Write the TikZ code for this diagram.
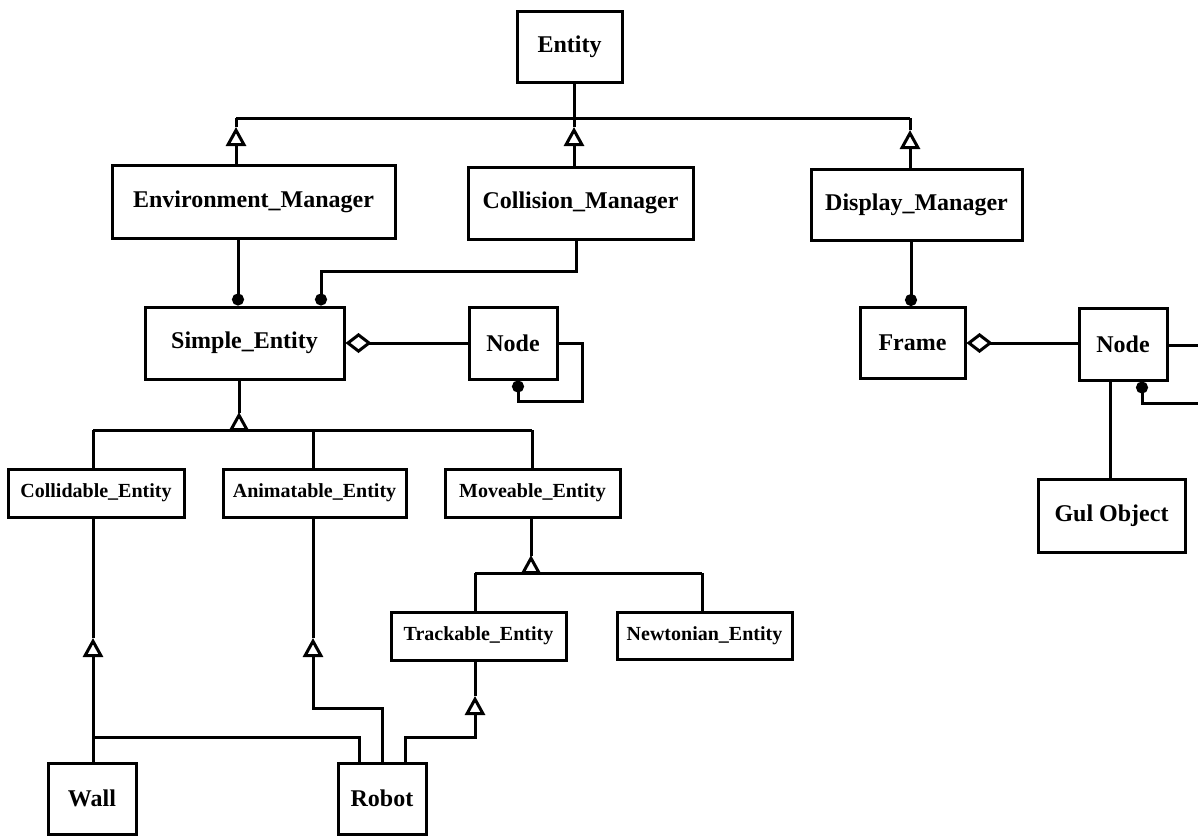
\documentclass[tikz,border=0pt]{standalone}
\usepackage{fontspec}
\setmainfont{Liberation Serif}
\usetikzlibrary{arrows.meta}
\begin{document}
\begin{tikzpicture}[x=1pt,y=-1pt,
  line width=3pt,
  bigbox/.style={draw, line width=3pt, inner sep=0pt, font=\fontsize{24}{28}\selectfont\bfseries},
  smallbox/.style={draw, line width=3pt, inner sep=0pt, font=\fontsize{20}{24}\selectfont\bfseries},
  genarrow/.style={-{Triangle[open,length=19pt,width=20pt]}},
  comparrow/.style={-{Circle[length=12pt]}},
  aggarrow/.style={-{Diamond[open,length=26pt,width=20pt]}}]
\useasboundingbox (0,0) rectangle (1198,835);

% nodes
\node[bigbox, minimum width=105pt, minimum height=71pt] (Entity) at (569.5,46.5) {Entity};
\node[bigbox, minimum width=283pt, minimum height=73pt] (EnvM) at (253.5,201.5) {Environment\_Manager};
\node[bigbox, minimum width=225pt, minimum height=72pt] (ColM) at (580.5,203) {Collision\_Manager};
\node[bigbox, minimum width=211pt, minimum height=71pt] (DispM) at (916.5,204.5) {Display\_Manager};
\node[bigbox, minimum width=199pt, minimum height=72pt] (Simple) at (244.5,343) {Simple\_Entity};
\node[bigbox, minimum width=88pt, minimum height=72pt] (NodeA) at (513,343) {Node};
\node[bigbox, minimum width=105pt, minimum height=71pt] (Frame) at (912.5,343) {Frame};
\node[bigbox, minimum width=88pt, minimum height=72pt] (NodeB) at (1123,344) {Node};
\node[bigbox, minimum width=147pt, minimum height=73pt] (Gul) at (1111.5,515.5) {Gul Object};
\node[smallbox, minimum width=176pt, minimum height=48pt] (Coll) at (96,493) {Collidable\_Entity};
\node[smallbox, minimum width=183pt, minimum height=48pt] (Anim) at (314.5,493) {Animatable\_Entity};
\node[smallbox, minimum width=175pt, minimum height=48pt] (Move) at (532.5,493) {Moveable\_Entity};
\node[smallbox, minimum width=175pt, minimum height=48pt] (Track) at (478.5,636) {Trackable\_Entity};
\node[smallbox, minimum width=175pt, minimum height=47pt] (Newt) at (704.5,635.5) {Newtonian\_Entity};
\node[bigbox, minimum width=88pt, minimum height=71pt] (Wall) at (92,798.5) {Wall};
\node[bigbox, minimum width=88pt, minimum height=71pt] (Robot) at (382,798.5) {Robot};

% column coordinates
\coordinate (xE) at (574,0);
\coordinate (xEnv) at (236,0);
\coordinate (xCol) at (574,0);
\coordinate (xDisp) at (910,0);
\coordinate (xEnvD) at (238,0);
\coordinate (xColD) at (576,0);
\coordinate (xSimR) at (321,0);
\coordinate (xDispD) at (911,0);
\coordinate (xLoop) at (518,0);
\coordinate (xNB) at (1142,0);
\coordinate (xGul) at (1110,0);
\coordinate (xSim) at (239,0);
\coordinate (xC) at (93,0);
\coordinate (xA) at (313,0);
\coordinate (xM) at (532,0);
\coordinate (xMd) at (531,0);
\coordinate (xT) at (475,0);
\coordinate (xN) at (702,0);
\coordinate (xR1) at (359,0);
\coordinate (xR2) at (382,0);
\coordinate (xR3) at (405,0);
\coordinate (edgeA) at (1205,345);
\coordinate (edgeB) at (1205,403);

% Entity generalization
\draw (Entity.south -| xE) -- (574,118);
\draw (236,118) -- (910,118);
\draw[genarrow] (EnvM.north -| xEnv) -- (236,127);
\draw (236,127) -- (236,118);
\draw[genarrow] (ColM.north -| xCol) -- (574,127);
\draw (574,127) -- (574,118);
\draw[genarrow] (DispM.north -| xDisp) -- (910,130);
\draw (910,130) -- (910,118);

% compositions
\draw[comparrow] (EnvM.south -| xEnvD) -- (Simple.north -| xEnvD);
\draw[comparrow] (ColM.south -| xColD) -- (576,271) -- (321,271) -- (Simple.north -| xSimR);
\draw[comparrow] (DispM.south -| xDispD) -- (Frame.north -| xDispD);
\draw[comparrow] (NodeA.east) -- (582,343) -- (582,401) -- (518,401) -- (NodeA.south -| xLoop);
\draw[comparrow] (edgeB) -- (1142,403) -- (NodeB.south -| xNB);

% aggregations
\draw[aggarrow] (NodeA.west) -- (Simple.east);
\draw[aggarrow] (NodeB.west |- Frame.east) -- (Frame.east);
\draw (NodeB.east |- edgeA) -- (edgeA);
\draw (NodeB.south -| xGul) -- (Gul.north -| xGul);

% Simple_Entity generalization
\draw (Simple.south -| xSim) -- (239,413);
\draw[genarrow] (239,432) -- (239,412);
\draw (93,430) -- (532,430);
\draw (Coll.north -| xC) -- (93,430);
\draw (Anim.north -| xA) -- (313,430);
\draw (Move.north -| xM) -- (532,430);

% Moveable generalization
\draw (Move.south -| xMd) -- (531,556);
\draw[genarrow] (531,575) -- (531,555);
\draw (475,573) -- (702,573);
\draw (Track.north -| xT) -- (475,573);
\draw (Newt.north -| xN) -- (702,573);

% Wall and Robot
\draw[genarrow] (Wall.north -| xC) -- (93,638);
\draw (93,638) -- (Coll.south -| xC);
\draw (Robot.north -| xR1) -- (359,737) -- (93,737);
\draw[genarrow] (Robot.north -| xR2) -- (382,708) -- (313,708) -- (313,638);
\draw (313,638) -- (Anim.south -| xA);
\draw[genarrow] (Robot.north -| xR3) -- (405,737) -- (475,737) -- (475,696);
\draw (475,696) -- (Track.south -| xT);
\end{tikzpicture}
\end{document}
